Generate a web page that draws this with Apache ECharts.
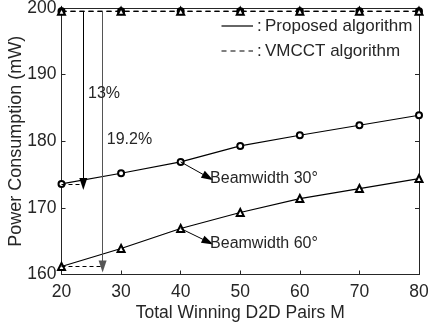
<!DOCTYPE html>
<html><head><meta charset="utf-8">
<script src="https://cdn.jsdelivr.net/npm/echarts@6/dist/echarts.min.js"></script>
<style>html,body{margin:0;padding:0;background:#fff}#c{width:428px;height:329px}</style>
</head><body><div id="c"></div>
<script>
// ---- data ----
var categories = [20, 30, 40, 50, 60, 70, 80];
var proposed30 = [173.6, 175.2, 176.9, 179.3, 180.9, 182.4, 183.9];
var proposed60 = [161.2, 163.9, 166.9, 169.3, 171.4, 172.9, 174.4];
var vmcct30 = [199.5, 199.5, 199.5, 199.5, 199.5, 199.5, 199.5];
var vmcct60 = [199.5, 199.5, 199.5, 199.5, 199.5, 199.5, 199.5];
var xTicks = [20, 30, 40, 50, 60, 70, 80];
var yTicks = [160, 170, 180, 190, 200];
// annotation arrows (data units)
var arrow13X = 23.66, arrow192X = 26.9;
var beam30Tip = [44.6, 174.6];
var beam60Tip = [44.6, 164.9];
var label13 = [24.45, 187.1];
var label192 = [27.6, 180.3];

var FONT = "'Liberation Sans', Arial, Helvetica, sans-serif";
var AX = '#262626';
function pairs(ys){ return categories.map(function(x,i){return [x, ys[i]];}); }

var chart = echarts.init(document.getElementById('c'), null, {renderer:'canvas'});
var axisCommon = {
  type:'value', splitLine:{show:false},
  axisLine:{show:true, lineStyle:{color:AX, width:1}},
  axisTick:{show:true, inside:true, length:4, lineStyle:{color:AX}},
};
var option = {
  animation:false,
  backgroundColor:'#fff',
  grid:{left:61.5, right:9, top:8, bottom:54.5, containLabel:false, outerBoundsMode:'none'},
  xAxis:[
    Object.assign({}, axisCommon, {min:20, max:80, interval:10, position:'bottom',
      name:'Total Winning D2D Pairs M', nameLocation:'middle', nameGap:30, nameMoveOverlap:false,
      nameTextStyle:{fontFamily:FONT, fontSize:17.5, color:AX},
      axisLabel:{fontFamily:FONT, fontSize:17.5, color:AX, margin:9,
        formatter:function(v){return xTicks.indexOf(v)>=0? String(v):'';}}}),
    Object.assign({}, axisCommon, {min:20, max:80, interval:10, position:'top', axisLabel:{show:false}})
  ],
  yAxis:[
    Object.assign({}, axisCommon, {min:160, max:200, interval:10, position:'left',
      name:'Power Consumption (mW)', nameLocation:'middle', nameGap:36.5, nameMoveOverlap:false,
      nameTextStyle:{fontFamily:FONT, fontSize:18, color:AX},
      axisLabel:{fontFamily:FONT, fontSize:17.5, color:AX, margin:5,
        formatter:function(v){return yTicks.indexOf(v)>=0? String(v):'';}}}),
    Object.assign({}, axisCommon, {min:160, max:200, interval:10, position:'right', axisLabel:{show:false}})
  ],
  series:[
    {name:'VMCCT 30', type:'line', data:pairs(vmcct30), symbol:'emptyCircle', symbolSize:6,
      lineStyle:{color:'#000', width:1.3, type:[5,4]}, itemStyle:{color:'#000', borderWidth:1.2}, z:3},
    {name:'VMCCT 60', type:'line', data:pairs(vmcct60), symbol:'emptyTriangle', symbolSize:7,
      lineStyle:{color:'#000', width:1.3, type:[5,4]}, itemStyle:{color:'#000', borderWidth:1.2}, z:3},
    {name:'Proposed 30', type:'line', data:pairs(proposed30), symbol:'emptyCircle', symbolSize:6,
      lineStyle:{color:'#000', width:1.2}, itemStyle:{color:'#000', borderWidth:1}, z:4,
      markLine:{silent:true, symbol:['none','none'], animation:false, label:{show:false},
        data:[
          [{coord:[arrow13X, vmcct30[0]], symbol:'none', lineStyle:{type:'solid', color:'#000', width:1}},
           {coord:[arrow13X, proposed30[0]], symbol:'triangle', symbolSize:[8,12], symbolRotate:180}],
          [{coord:[20, proposed30[0]], symbol:'none', lineStyle:{type:[4,3], color:'#000', width:1}},
           {coord:[arrow13X, proposed30[0]], symbol:'none'}],
          [{coord:[40, proposed30[2]], symbol:'none', lineStyle:{type:'solid', color:'#000', width:1}},
           {coord:beam30Tip, symbol:'triangle', symbolSize:[8,12]}]
        ]}},
    {name:'Proposed 60', type:'line', data:pairs(proposed60), symbol:'emptyTriangle', symbolSize:7,
      lineStyle:{color:'#000', width:1.2}, itemStyle:{color:'#000', borderWidth:1}, z:4,
      markLine:{silent:true, symbol:['none','none'], animation:false, label:{show:false},
        data:[
          [{coord:[arrow192X, vmcct60[0]], symbol:'none', lineStyle:{type:'solid', color:'#555', width:1}},
           {coord:[arrow192X, proposed60[0]], symbol:'triangle', symbolSize:[8,12], symbolRotate:180}],
          [{coord:[20, proposed60[0]], symbol:'none', lineStyle:{type:[4,3], color:'#000', width:1}},
           {coord:[arrow192X, proposed60[0]], symbol:'none'}],
          [{coord:[40, proposed60[2]], symbol:'none', lineStyle:{type:'solid', color:'#000', width:1}},
           {coord:beam60Tip, symbol:'triangle', symbolSize:[8,12]}]
        ]}}
  ]
};
chart.setOption(option);

function px(pt){ return chart.convertToPixel({xAxisIndex:0, yAxisIndex:0}, pt); }
var t13 = px(label13);
var t192 = px(label192);
var b30 = px(beam30Tip);
var b60 = px(beam60Tip);
var txt = {fontFamily:FONT, fontSize:16, fill:AX, textVerticalAlign:'middle'};
function T(x,y,s,fs){ var st = Object.assign({text:s}, txt); if(fs) st.fontSize = fs; return {type:'text', x:x, y:y, style:st, z:10}; }
chart.setOption({graphic:[
  T(t13[0], t13[1], '13%'),
  T(t192[0], t192[1], '19.2%'),
  T(b30[0]+2, b30[1]+1.5, 'Beamwidth 30\u00b0'),
  T(b60[0]+2, b60[1]+1.5, 'Beamwidth 60\u00b0'),
  {type:'line', shape:{x1:221.5, y1:26, x2:253, y2:26}, style:{stroke:'#000', lineWidth:1.2}, z:10},
  T(257, 26, ':', 17), T(265, 26, 'Proposed algorithm', 17),
  {type:'line', shape:{x1:221.5, y1:51, x2:253, y2:51}, style:{stroke:'#000', lineWidth:1.2, lineDash:[5,4]}, z:10},
  T(257, 51, ':', 17), T(265, 51, 'VMCCT algorithm', 17)
]});
</script></body></html>
